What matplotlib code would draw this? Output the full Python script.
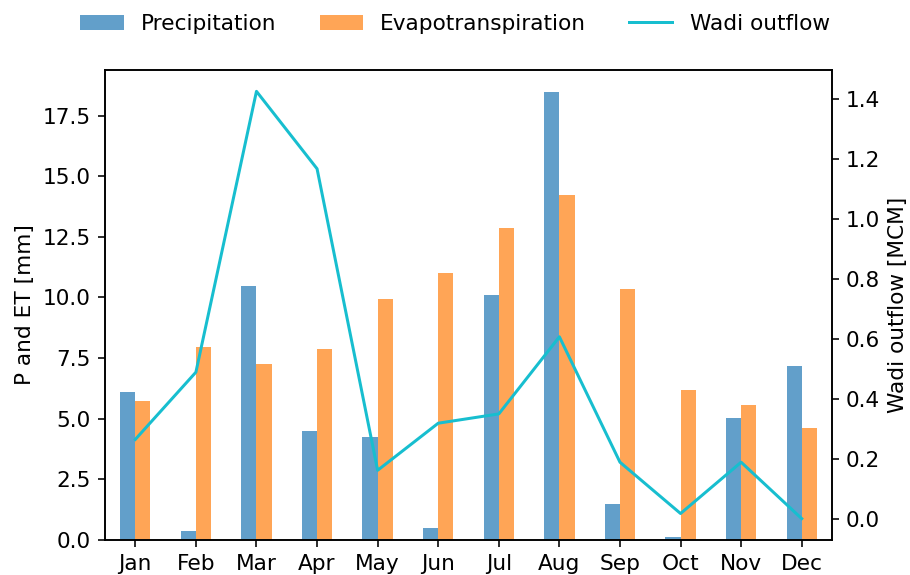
"""Monthly P, ET and wadi outflow - bar + line chart."""

import matplotlib
matplotlib.use("Agg")
import matplotlib.pyplot as plt
import numpy as np

###################################################################################################
###################################################################################################

months = ['Jan', 'Feb', 'Mar', 'Apr', 'May', 'Jun',
          'Jul', 'Aug', 'Sep', 'Oct', 'Nov', 'Dec']
precip = [6.11, 0.38, 10.46, 4.50, 4.23, 0.48, 10.10, 18.46, 1.47, 0.11, 5.04, 7.18]
evapo = [5.74, 7.96, 7.25, 7.88, 9.93, 11.01, 12.86, 14.21, 10.36, 6.18, 5.56, 4.60]
outflow = [0.264, 0.488, 1.424, 1.166, 0.161, 0.318, 0.349, 0.606, 0.188, 0.017, 0.188, 0.0]

DPI = 144
plt.rcParams['font.size'] = 10.8

fig = plt.figure(figsize=(910 / DPI, 575 / DPI), dpi=DPI)
ax = fig.add_axes([0.1154, 0.0609, 0.7989, 0.8174])

x = np.arange(len(months))
width = 0.25

# Bars for precipitation and evapotranspiration
ax.bar(x - width / 2, precip, width, color='tab:blue', alpha=0.7, label='Precipitation')
ax.bar(x + width / 2, evapo, width, color='tab:orange', alpha=0.7, label='Evapotranspiration')
ax.set_xlim(-0.5, len(months) - 0.5)
ax.set_ylim(0, max(precip) * 1.05)
ax.set_xticks(x)
ax.set_xticklabels(months)
ax.set_ylabel('P and ET [mm]')

# Outflow on secondary axis
ax2 = ax.twinx()
ax2.plot(x, outflow, color='tab:cyan', label='Wadi outflow')
ax2.set_ylabel('Wadi outflow [MCM]')

h1, l1 = ax.get_legend_handles_labels()
h2, l2 = ax2.get_legend_handles_labels()
fig.legend(h1 + h2, l1 + l2, loc='upper center', bbox_to_anchor=(0.5, 1.01),
           ncol=3, frameon=False)

fig.savefig('out.png', dpi=DPI)
